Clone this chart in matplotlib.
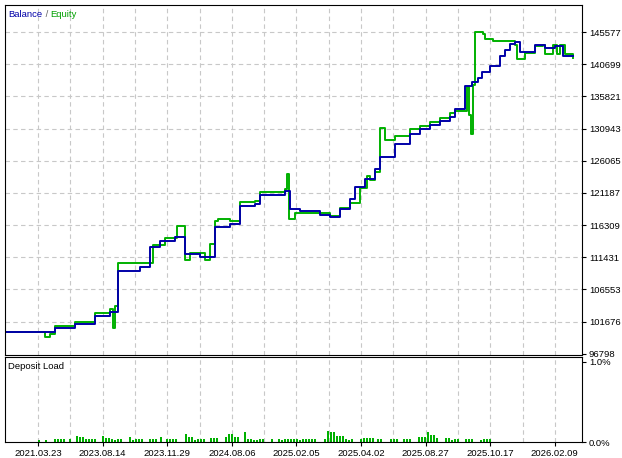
import numpy as np
import matplotlib.pyplot as plt

plt.rcParams['font.family'] = ['Liberation Sans', 'DejaVu Sans']

# x in chart columns (0..577), values in account currency
bal_x = [0, 32, 50, 70, 90, 105, 113, 135, 145, 155, 170, 180, 195, 205, 210, 225, 235, 250, 255, 280,
         285, 295, 315, 325, 335, 345, 350, 360, 370, 375, 390, 405, 415, 425, 435, 445, 450, 460, 467,
         473, 477, 485, 495, 500, 505, 510, 515, 520, 530, 540, 550, 558, 568]
balance = [100151, 100151, 100760, 101370, 102589, 103199, 109295, 109904, 112952, 113867, 114476, 111885,
           111428, 111428, 116000, 116458, 119201, 119506, 120878, 121487, 118744, 118439, 117829, 117524,
           118744, 120268, 122096, 123316, 124840, 126668, 128650, 130174, 130936, 131545, 132155, 132764,
           133984, 137336, 137946, 138556, 139470, 140384, 141908, 142823, 143737, 144042, 142518, 142518,
           143585, 143128, 143433, 141908, 141908]

eq_x = [0, 32, 40, 45, 50, 70, 90, 105, 108, 110, 113, 140, 148, 160, 172, 180, 185, 200, 205, 210, 213,
        225, 235, 250, 255, 280, 282, 284, 290, 315, 325, 335, 345, 355, 362, 365, 370, 375, 380, 390,
        405, 415, 425, 435, 445, 450, 462, 464, 466, 468, 470, 478, 480, 488, 505, 510, 512, 520, 530, 538,
        540, 548, 552, 555, 560, 568]
equity = [100151, 100151, 99350, 99800, 101000, 101680, 102900, 103600, 100700, 104000, 110500, 110500,
          113300, 114300, 116100, 111000, 112000, 111000, 113400, 116900, 117200, 116900, 119800, 119900,
          121300, 121800, 124000, 117200, 118200, 118100, 117700, 118900, 119600, 122000, 123800, 123200,
          124300, 131000, 129200, 129800, 130900, 131400, 132000, 132600, 133300, 133600, 137200, 133000,
          130200, 137500, 145577, 145300, 144500, 144200, 144200, 143700, 141500, 142400, 143500, 143600,
          142200, 143700, 142200, 143600, 142200, 141600]

load_x = [33, 40, 49, 52, 55, 58, 64, 71, 74, 77, 80, 83, 86, 89, 97, 100, 103, 106, 109, 112, 115, 124,
          127, 130, 133, 136, 144, 147, 150, 155, 161, 164, 167, 170, 180, 183, 186, 189, 192, 195, 198,
          205, 208, 211, 220, 223, 226, 229, 232, 239, 242, 245, 248, 251, 254, 257, 266, 273, 276, 279,
          282, 285, 288, 291, 294, 297, 300, 303, 306, 309, 319, 322, 325, 328, 331, 334, 337, 340, 343,
          346, 355, 358, 361, 364, 367, 372, 375, 385, 388, 391, 398, 401, 404, 413, 416, 419, 422, 425,
          428, 431, 440, 443, 446, 449, 452, 460, 463, 466, 475, 478, 481, 484]
loads = [0.02, 0.02, 0.04, 0.04, 0.04, 0.04, 0.04, 0.08, 0.06, 0.06, 0.04, 0.04, 0.04, 0.04, 0.08, 0.05,
         0.05, 0.04, 0.03, 0.04, 0.04, 0.06, 0.03, 0.04, 0.04, 0.04, 0.04, 0.04, 0.04, 0.06, 0.04, 0.04,
         0.04, 0.04, 0.10, 0.06, 0.06, 0.03, 0.04, 0.04, 0.04, 0.05, 0.05, 0.05, 0.06, 0.10, 0.10, 0.06,
         0.06, 0.13, 0.04, 0.04, 0.03, 0.03, 0.04, 0.04, 0.04, 0.04, 0.03, 0.04, 0.04, 0.04, 0.04, 0.04,
         0.03, 0.04, 0.04, 0.04, 0.04, 0.04, 0.04, 0.14, 0.12, 0.12, 0.08, 0.08, 0.08, 0.04, 0.03, 0.04,
         0.04, 0.05, 0.05, 0.05, 0.05, 0.04, 0.04, 0.04, 0.04, 0.04, 0.04, 0.04, 0.04, 0.06, 0.06, 0.06,
         0.13, 0.09, 0.09, 0.05, 0.05, 0.05, 0.03, 0.04, 0.04, 0.04, 0.04, 0.04, 0.03, 0.04, 0.04, 0.04]

date_labels = ['2021.03.23', '2023.08.14', '2023.11.29', '2024.08.06', '2025.02.05',
               '2025.04.02', '2025.08.27', '2025.10.17', '2026.02.09']
y_ticks = [96798, 101676, 106553, 111431, 116309, 121187, 126065, 130943, 135821, 140699, 145577]

W, H = 622, 458
fig = plt.figure(figsize=(W / 100, H / 100), dpi=100)
ax = fig.add_axes([5 / W, 1 - 355 / H, 577 / W, 350 / H])
ax2 = fig.add_axes([5 / W, 1 - 442 / H, 577 / W, 85 / H])

grid_x = [33 + 32.3 * k for k in range(17)]
grid_fmt = dict(color='#c8c8c8', linestyle=(0, (4, 3)), linewidth=0.8)

ax.set_xlim(0, 577)
ax.set_ylim(96600, 149700)
for gx in grid_x:
    ax.axvline(gx, zorder=0, **grid_fmt)
for gy in y_ticks[1:]:
    ax.axhline(gy, zorder=0, **grid_fmt)
ax.step(eq_x, equity, where='post', color='#00b000', linewidth=1.4)
ax.step(bal_x, balance, where='post', color='#0000a8', linewidth=1.4)
ax.yaxis.tick_right()
ax.set_yticks(y_ticks)
ax.set_yticklabels([str(v) for v in y_ticks])
ax.set_xticks([])
ax.tick_params(axis='y', labelsize=6.8, length=3, pad=2)

# legend text chained piece by piece
t1 = ax.text(0.006, 0.985, 'Balance', color='#0000a8', fontsize=6.8, transform=ax.transAxes, va='top')
t2 = ax.annotate(' / ', xy=(1, 0), xycoords=t1, va='bottom', color='#606060', fontsize=6.8)
ax.annotate('Equity', xy=(1, 0), xycoords=t2, va='bottom', color='#00a000', fontsize=6.8)

ax2.set_xlim(0, 577)
ax2.set_ylim(0, 1.06)
for gx in grid_x:
    ax2.axvline(gx, zorder=0, **grid_fmt)
ax2.bar(load_x, loads, width=2, color='#00b000', align='edge')
ax2.yaxis.tick_right()
ax2.set_yticks([0, 1.0])
ax2.set_yticklabels(['0.0%', '1.0%'])
ax2.set_xticks(grid_x[::2])
ax2.set_xticklabels(date_labels)
ax2.tick_params(labelsize=6.8, length=3, pad=2)
ax2.text(0.006, 0.94, 'Deposit Load', fontsize=6.8, transform=ax2.transAxes, va='top')

fig.savefig('out.png', dpi=100)
